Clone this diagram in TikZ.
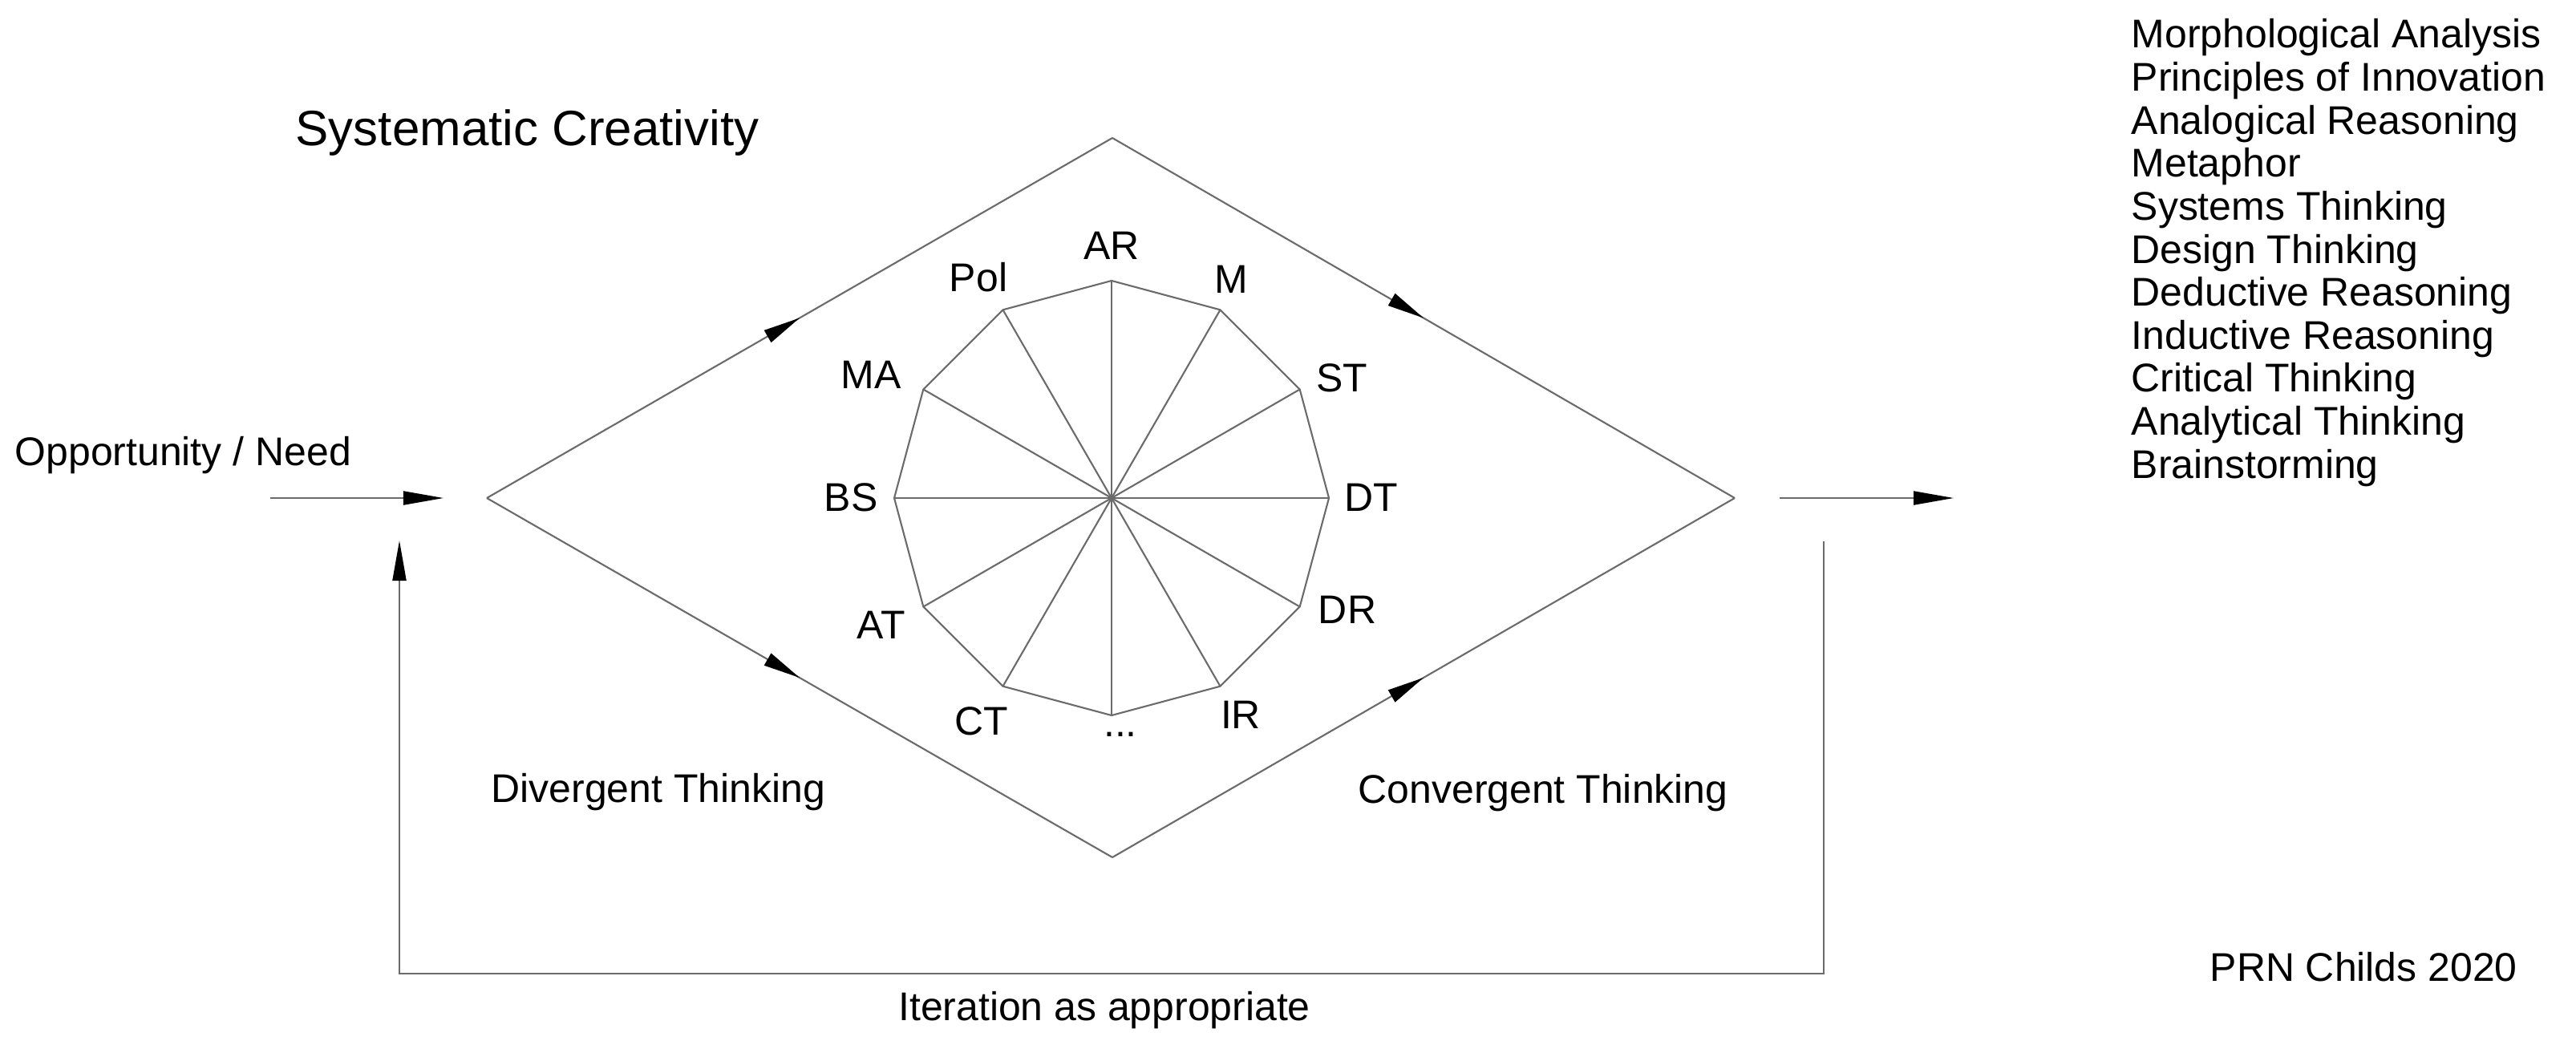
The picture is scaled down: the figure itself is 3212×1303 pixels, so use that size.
\documentclass[tikz,border=0pt]{standalone}
\usepackage{fontspec}
\setmainfont{Liberation Sans}
\usetikzlibrary{arrows.meta,decorations.markings,calc}
\begin{document}
\begin{tikzpicture}[x=0.01cm,y=-0.01cm,
  ln/.style={draw=black!58, line width=0.6pt},
  tipend/.style={-{Triangle[length=5mm,width=1.7mm,color=black]}},
  midarrow/.style={postaction={decorate},
    decoration={markings,mark=at position 0.5 with {\arrow{Triangle[length=4.6mm,width=1.7mm,color=black]}}}},
  txt/.style={font=\fontsize{14.2}{17}\selectfont, inner sep=0pt, anchor=base},
  titletxt/.style={font=\fontsize{17.6}{21}\selectfont, inner sep=0pt, anchor=base west}]
\useasboundingbox (0,0) rectangle (3212,1303);
\fill[white] (0,0) rectangle (3212,1303);

% diamond vertices
\coordinate (L) at (607,621);
\coordinate (T) at (1387,172);
\coordinate (R) at (2163,621);
\coordinate (B) at (1387,1069);
\draw[ln, midarrow] (L) -- (T);
\draw[ln, midarrow] (T) -- (R);
\draw[ln, midarrow] (L) -- (B);
\draw[ln, midarrow] (B) -- (R);

% 12-gon
\coordinate (C) at (1386,621);
\foreach \i in {0,...,11} {
  \coordinate (v\i) at ($(C)+(\i*30:271)$);
}
\draw[ln] (v0) -- (v1) -- (v2) -- (v3) -- (v4) -- (v5) -- (v6) -- (v7) -- (v8) -- (v9) -- (v10) -- (v11) -- cycle;
\foreach \i in {0,...,11} {
  \draw[ln] (C) -- (v\i);
}

% polygon labels
\node[txt] (AR)  at (1386,323) {AR};
\node[txt] (Pol) at (1220,363) {Pol};
\node[txt] (M)   at (1535,365) {M};
\node[txt] (MA)  at (1086,484) {MA};
\node[txt] (ST)  at (1673,488) {ST};
\node[txt] (BS)  at (1061,637) {BS};
\node[txt] (DT)  at (1710,637) {DT};
\node[txt] (AT)  at (1099,796) {AT};
\node[txt] (DR)  at (1680,777) {DR};
\node[txt] (CT)  at (1224,916) {CT};
\node[txt] (dots) at (1397,918) {...};
\node[txt] (IR)  at (1547,908) {IR};

% input / output arrows
\coordinate (inS) at (337,621);
\coordinate (inE) at (553,621);
\draw[ln, tipend] (inS) -- (inE);
\coordinate (outS) at (2219,621);
\coordinate (outE) at (2436,621);
\draw[ln, tipend] (outS) -- (outE);

% feedback loop
\coordinate (fbA) at (2274,675);
\coordinate (fbB) at (2274,1214);
\coordinate (fbC) at (498,1214);
\coordinate (fbD) at (498,674);
\draw[ln, tipend] (fbA) -- (fbB) -- (fbC) -- (fbD);

% texts
\node[titletxt] (title) at (368,181) {Systematic Creativity};
\node[txt, anchor=base west] (need) at (18,580) {Opportunity / Need};
\node[txt, anchor=base west] (div) at (612,1000) {Divergent Thinking};
\node[txt, anchor=base west] (conv) at (1693,1001) {Convergent Thinking};
\node[txt] (iter) at (1377,1272) {Iteration as appropriate};
\node[txt, anchor=base west] (prn) at (2755,1223) {PRN Childs 2020};

\foreach \t [count=\i] in {Morphological Analysis, Principles of Innovation, Analogical Reasoning, Metaphor, Systems Thinking, Design Thinking, Deductive Reasoning, Inductive Reasoning, Critical Thinking, Analytical Thinking, Brainstorming} {
  \node[txt, anchor=base west] (list\i) at (2657,{60+(\i-1)*53.6}) {\t};
}
\end{tikzpicture}
\end{document}
